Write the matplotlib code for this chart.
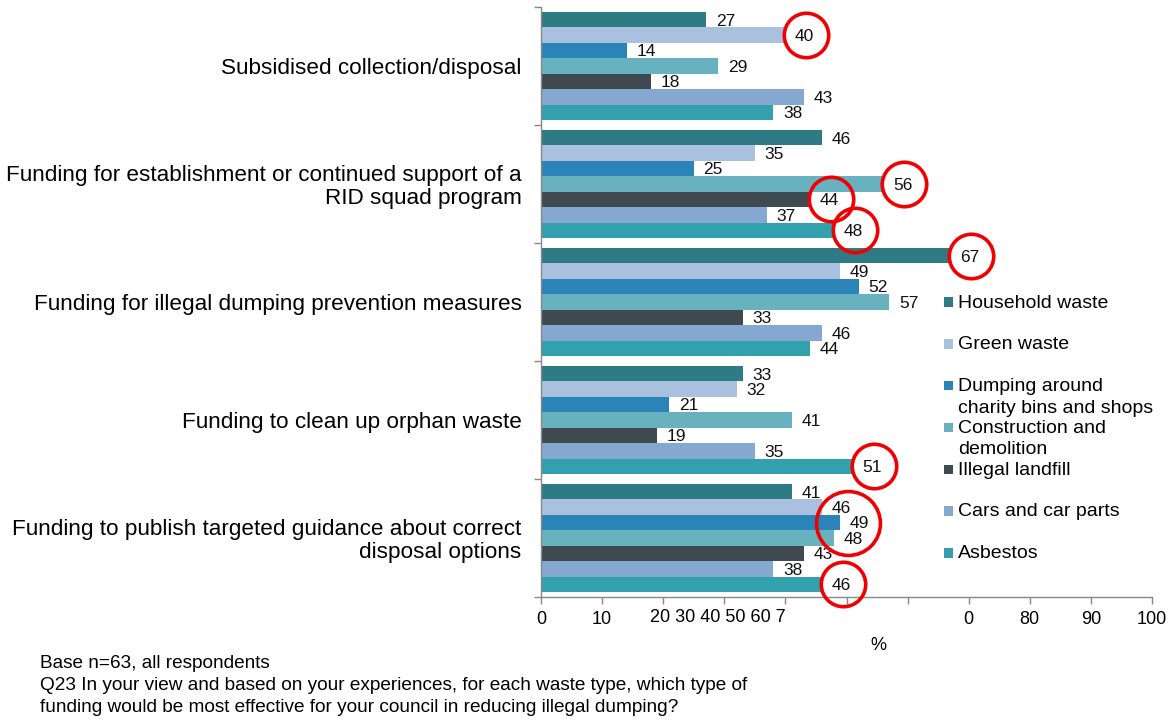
import matplotlib
matplotlib.use('Agg')
import matplotlib.pyplot as plt
import numpy as np
from matplotlib.transforms import ScaledTranslation
from matplotlib.ticker import FixedLocator

plt.rcParams['font.family'] = ['Liberation Sans', 'DejaVu Sans']

categories = [
    "Subsidised collection/disposal",
    "Funding for establishment or continued support of a\nRID squad program",
    "Funding for illegal dumping prevention measures",
    "Funding to clean up orphan waste",
    "Funding to publish targeted guidance about correct\ndisposal options",
]
series_names = [
    "Household waste",
    "Green waste",
    "Dumping around\ncharity bins and shops",
    "Construction and\ndemolition",
    "Illegal landfill",
    "Cars and car parts",
    "Asbestos",
]
household = [27, 46, 67, 33, 41]
green = [40, 35, 49, 32, 46]
dumping = [14, 25, 52, 21, 49]
construction = [29, 56, 57, 41, 48]
landfill = [18, 44, 33, 19, 43]
cars = [43, 37, 46, 35, 38]
asbestos = [38, 48, 44, 51, 46]
series_values = [household, green, dumping, construction, landfill, cars, asbestos]
colors = ['#2E7A85', '#A9C1DE', '#2B84B8', '#68B1BE', '#3E4A50', '#84A8D0', '#33A0AE']

x_ticks = [0, 10, 20, 30, 40, 50, 60, 70, 80, 90, 100]
x_tick_labels = ['0', '10', '', '', '', '', '', '0', '80', '90', '100']
overlap_label = '20 30 40 50 60 7'

# highlighted (category, series) pairs circled in red
highlights = [(0, 1), (1, 3), (1, 4), (1, 6), (2, 0), (3, 6), (4, 6)]
big_highlight = (4, 2)

footnote = [
    "Base n=63, all respondents",
    "Q23 In your view and based on your experiences, for each waste type, which type of",
    "funding would be most effective for your council in reducing illegal dumping?",
]

W, H = 1174, 722
fig = plt.figure(figsize=(W / 100, H / 100), dpi=100)
ax = fig.add_axes([541 / W, 1 - 597 / H, (1152 - 541) / W, (597 - 7) / H])

n_series = len(series_values)
bar_h = 0.131
y_base = np.arange(len(categories))
for i, vals in enumerate(series_values):
    ys = y_base + (i - (n_series - 1) / 2) * bar_h
    ax.barh(ys, vals, height=bar_h, color=colors[i], edgecolor='none', zorder=2)
    for y, v in zip(ys, vals):
        ax.annotate(str(v), (v, y), xytext=(7, -1), textcoords='offset points',
                    va='center', ha='left', fontsize=12.5, color='#111111', zorder=4)

# red circles
off = ScaledTranslation(0.21, 0, fig.dpi_scale_trans)
for c, s in highlights:
    y = c + (s - (n_series - 1) / 2) * bar_h
    v = series_values[s][c]
    ax.plot([v], [y], marker='o', markersize=32, markerfacecolor='none',
            markeredgecolor='#F00000', markeredgewidth=2.6,
            transform=ax.transData + off, zorder=5, clip_on=False)
c, s = big_highlight
y = c + (s - (n_series - 1) / 2) * bar_h
v = series_values[s][c]
ax.plot([v], [y], marker='o', markersize=46, markerfacecolor='none',
        markeredgecolor='#F00000', markeredgewidth=2.6,
        transform=ax.transData + ScaledTranslation(0.08, 0, fig.dpi_scale_trans),
        zorder=5, clip_on=False)

ax.set_xlim(0, 100)
ax.set_ylim(len(categories) - 0.5, -0.5)

ax.set_xticks(x_ticks)
ax.set_xticklabels(x_tick_labels, fontsize=13)
ax.tick_params(axis='x', direction='out', length=5, width=1, color='#888888', pad=5)

ax.set_yticks(y_base)
ax.set_yticklabels(categories, fontsize=16.2, linespacing=1.1)
ax.yaxis.set_minor_locator(FixedLocator(np.arange(-0.5, len(categories), 1.0)))
ax.tick_params(axis='y', which='major', length=0, pad=14)
ax.tick_params(axis='y', which='minor', direction='out', length=5, width=1, color='#888888')

for sp in ['top', 'right']:
    ax.spines[sp].set_visible(False)
for sp in ['left', 'bottom']:
    ax.spines[sp].set_color('#888888')
    ax.spines[sp].set_linewidth(1)

fig.text(650 / W, 1 - 618 / H, overlap_label, fontsize=13, ha='left', va='center')
fig.text(878 / W, 1 - 645 / H, '%', fontsize=13, ha='center', va='center')

# legend
leg_y0, leg_dy = 302, 41.8
for i, (name, col) in enumerate(zip(series_names, colors)):
    yc = leg_y0 + i * leg_dy
    fig.patches.append(plt.Rectangle((943.5 / W, 1 - (yc + 4.8) / H), 9.5 / W, 9.5 / H,
                                     transform=fig.transFigure, facecolor=col,
                                     edgecolor='none'))
    for j, line in enumerate(name.split('\n')):
        fig.text(958 / W, 1 - (yc + 1 + j * 21.5) / H, line, fontsize=14,
                 ha='left', va='center')

for j, line in enumerate(footnote):
    fig.text(40 / W, 1 - (664 + j * 22) / H, line, fontsize=13.7, ha='left', va='center')

fig.savefig('out.png', dpi=100)
